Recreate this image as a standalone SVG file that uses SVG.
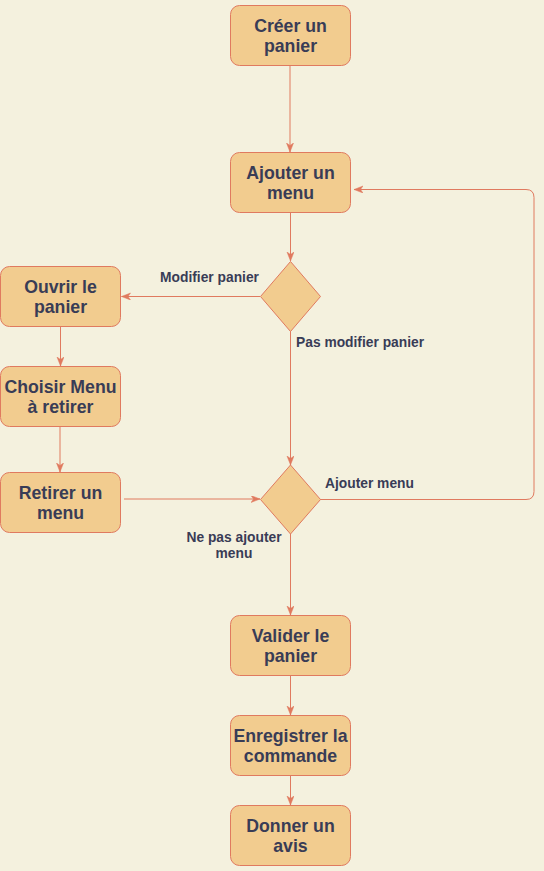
<svg xmlns="http://www.w3.org/2000/svg" width="544" height="871" viewBox="0 0 544 871">
<style>
.bg{fill:#F4F1DE}
.node rect,.node polygon{fill:#F2CC8F;stroke:#E07A5F;stroke-width:1}
.node text{font-family:"Liberation Sans",Arial,Helvetica,sans-serif;font-weight:bold;font-size:17.7px;fill:#393C56;text-anchor:middle}
.edges path{fill:none;stroke:#E07A5F;stroke-width:1}
.lbl{font-family:"Liberation Sans",Arial,Helvetica,sans-serif;font-weight:bold;font-size:13.8px;fill:#393C56}
</style>
<defs>
<marker id="arr" markerUnits="userSpaceOnUse" markerWidth="10" markerHeight="8" refX="9" refY="3.5" orient="auto">
<path d="M0,0 L9,3.5 L0,7 L2.5,3.5 Z" fill="#E07A5F" stroke="#E07A5F" stroke-width="0.5"/>
</marker>
</defs>
<rect class="bg" x="0" y="0" width="544" height="871"/>
<g class="edges">
<path d="M290,65.5 L290,152" marker-end="url(#arr)"/>
<path d="M290.5,212.5 L290.5,261" marker-end="url(#arr)"/>
<path d="M260,296.5 L121.5,296.5" marker-end="url(#arr)"/>
<path d="M290.5,331 L290.5,465" marker-end="url(#arr)"/>
<path d="M60.5,326.5 L60.5,366" marker-end="url(#arr)"/>
<path d="M60,426.5 L60,472" marker-end="url(#arr)"/>
<path d="M124,499 L260,499" marker-end="url(#arr)"/>
<path d="M320,499.5 L526,499.5 Q534,499.5 534,491.5 L534,197.5 Q534,189.5 526,189.5 L354,189.5" marker-end="url(#arr)"/>
<path d="M290.5,534 L290.5,615" marker-end="url(#arr)"/>
<path d="M290.5,675.5 L290.5,715" marker-end="url(#arr)"/>
<path d="M290.5,775.5 L290.5,805" marker-end="url(#arr)"/>
</g>
<g id="labels">
<text class="lbl" x="209.5" y="282" text-anchor="middle">Modifier panier</text>
<text class="lbl" x="296" y="346.5">Pas modifier panier</text>
<text class="lbl" x="325" y="488">Ajouter menu</text>
<text class="lbl" x="234" y="542" text-anchor="middle">Ne pas ajouter</text>
<text class="lbl" x="234" y="558" text-anchor="middle">menu</text>
</g>
<g id="creer" class="node"><rect x="230.5" y="5.5" width="120" height="60" rx="9"/><text x="290.5" y="31.5">Créer un</text><text x="290.5" y="52">panier</text></g>
<g id="ajouter" class="node"><rect x="230.5" y="152.5" width="120" height="60" rx="9"/><text x="290.5" y="178.5">Ajouter un</text><text x="290.5" y="199">menu</text></g>
<g id="decision1" class="node"><polygon points="290.5,261.5 320.5,296.5 290.5,331.5 260.5,296.5"/></g>
<g id="ouvrir" class="node"><rect x="0.5" y="266.5" width="120" height="60" rx="9"/><text x="60.5" y="292.5">Ouvrir le</text><text x="60.5" y="313">panier</text></g>
<g id="choisir" class="node"><rect x="0.5" y="366.5" width="120" height="60" rx="9"/><text x="60.5" y="392.5">Choisir Menu</text><text x="60.5" y="413">à retirer</text></g>
<g id="retirer" class="node"><rect x="0.5" y="472.5" width="120" height="60" rx="9"/><text x="60.5" y="498.5">Retirer un</text><text x="60.5" y="519">menu</text></g>
<g id="decision2" class="node"><polygon points="290.5,465 320.5,499.5 290.5,534 260.5,499.5"/></g>
<g id="valider" class="node"><rect x="230.5" y="615.5" width="120" height="60" rx="9"/><text x="290.5" y="641.5">Valider le</text><text x="290.5" y="662">panier</text></g>
<g id="enregistrer" class="node"><rect x="230.5" y="715.5" width="120" height="60" rx="9"/><text x="290.5" y="741.5">Enregistrer la</text><text x="290.5" y="762">commande</text></g>
<g id="avis" class="node"><rect x="230.5" y="805.5" width="120" height="60" rx="9"/><text x="290.5" y="831.5">Donner un</text><text x="290.5" y="852">avis</text></g>
</svg>
